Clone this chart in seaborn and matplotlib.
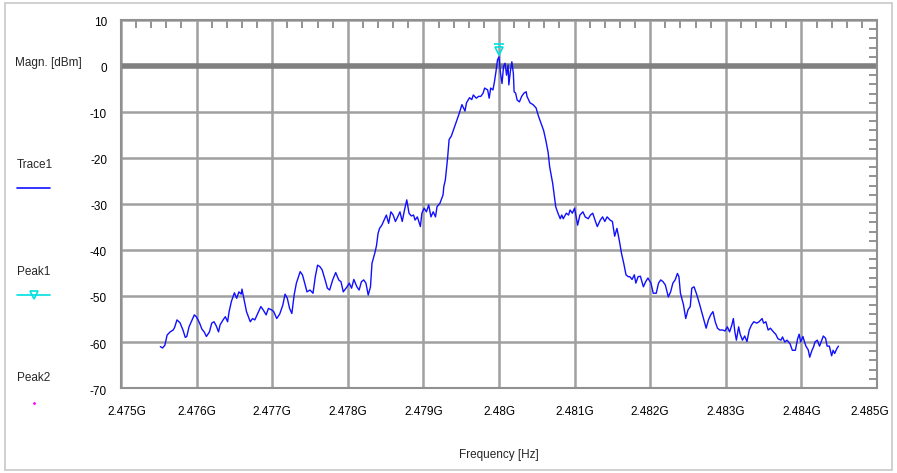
import pandas as pd
import matplotlib.pyplot as plt
import seaborn as sns
from matplotlib.lines import Line2D
from matplotlib.patches import Rectangle
from matplotlib.ticker import MultipleLocator, FuncFormatter
from matplotlib.transforms import ScaledTranslation

# ── DATA (frequency in MHz, magnitude in dBm) ─────────────
freq_mhz = [
    2475.52, 2475.55, 2475.58, 2475.61, 2475.65, 2475.69, 2475.71, 2475.74, 2475.78, 2475.82,
    2475.85, 2475.87, 2475.90, 2475.94, 2475.97, 2476.00, 2476.04, 2476.07, 2476.10, 2476.13,
    2476.17, 2476.20, 2476.23, 2476.26, 2476.29, 2476.31, 2476.35, 2476.38, 2476.41, 2476.43,
    2476.46, 2476.50, 2476.53, 2476.56, 2476.59, 2476.60, 2476.63, 2476.66, 2476.71, 2476.74,
    2476.77, 2476.82, 2476.85, 2476.88, 2476.92, 2476.95, 2476.99, 2477.02, 2477.06, 2477.10,
    2477.14, 2477.17, 2477.20, 2477.23, 2477.26, 2477.29, 2477.32, 2477.37, 2477.40, 2477.43,
    2477.46, 2477.50, 2477.54, 2477.57, 2477.60, 2477.63, 2477.66, 2477.70, 2477.73, 2477.76,
    2477.80, 2477.84, 2477.88, 2477.91, 2477.94, 2477.99, 2478.02, 2478.05, 2478.08, 2478.12,
    2478.15, 2478.18, 2478.21, 2478.24, 2478.27, 2478.30, 2478.32, 2478.36, 2478.38, 2478.40,
    2478.42, 2478.45, 2478.48, 2478.51, 2478.54, 2478.57, 2478.60, 2478.63, 2478.66, 2478.69,
    2478.72, 2478.75, 2478.78, 2478.81, 2478.84, 2478.87, 2478.89, 2478.92, 2478.96, 2478.98,
    2479.01, 2479.04, 2479.07, 2479.10, 2479.13, 2479.16, 2479.18, 2479.22, 2479.26, 2479.27,
    2479.29, 2479.32, 2479.34, 2479.37, 2479.40, 2479.44, 2479.47, 2479.51, 2479.53, 2479.55,
    2479.57, 2479.61, 2479.64, 2479.66, 2479.70, 2479.73, 2479.76, 2479.79, 2479.81, 2479.85,
    2479.87, 2479.89, 2479.92, 2479.94, 2479.96, 2479.98, 2480.00, 2480.02, 2480.04, 2480.06,
    2480.08, 2480.10, 2480.12, 2480.13, 2480.15, 2480.17, 2480.19, 2480.20, 2480.22, 2480.24,
    2480.27, 2480.30, 2480.33, 2480.36, 2480.37, 2480.41, 2480.45, 2480.49, 2480.52, 2480.55,
    2480.59, 2480.62, 2480.65, 2480.67, 2480.71, 2480.73, 2480.75, 2480.78, 2480.81, 2480.83,
    2480.85, 2480.89, 2480.92, 2480.94, 2480.97, 2481.00, 2481.02, 2481.04, 2481.07, 2481.11,
    2481.14, 2481.18, 2481.21, 2481.24, 2481.27, 2481.30, 2481.34, 2481.37, 2481.40, 2481.43,
    2481.47, 2481.50, 2481.53, 2481.56, 2481.59, 2481.62, 2481.65, 2481.68, 2481.71, 2481.73,
    2481.76, 2481.79, 2481.81, 2481.84, 2481.87, 2481.91, 2481.94, 2481.97, 2482.01, 2482.04,
    2482.08, 2482.11, 2482.14, 2482.17, 2482.20, 2482.24, 2482.27, 2482.30, 2482.33, 2482.36,
    2482.38, 2482.40, 2482.44, 2482.47, 2482.50, 2482.53, 2482.55, 2482.58, 2482.61, 2482.65,
    2482.68, 2482.71, 2482.74, 2482.77, 2482.80, 2482.83, 2482.86, 2482.89, 2482.92, 2482.96,
    2482.99, 2483.02, 2483.05, 2483.08, 2483.10, 2483.12, 2483.14, 2483.17, 2483.19, 2483.22,
    2483.25, 2483.28, 2483.31, 2483.34, 2483.37, 2483.41, 2483.44, 2483.48, 2483.50, 2483.53,
    2483.56, 2483.59, 2483.63, 2483.66, 2483.69, 2483.73, 2483.75, 2483.78, 2483.81, 2483.85,
    2483.88, 2483.92, 2483.95, 2483.97, 2483.99, 2484.02, 2484.04, 2484.06, 2484.09, 2484.11,
    2484.14, 2484.16, 2484.18, 2484.21, 2484.24, 2484.27, 2484.29, 2484.32, 2484.34, 2484.37,
    2484.40, 2484.42, 2484.44, 2484.47, 2484.49,
]
magn_dbm = [
    -61.0, -61.3, -60.7, -58.5, -57.8, -57.4, -56.8, -55.2, -55.8, -57.4,
    -59.0, -58.8, -56.7, -55.2, -54.1, -54.6, -55.9, -57.2, -57.8, -58.8,
    -57.8, -55.9, -55.6, -56.5, -57.8, -56.3, -55.2, -54.5, -55.6, -53.4,
    -51.2, -49.3, -50.5, -49.1, -49.6, -48.5, -50.9, -53.4, -55.6, -54.9,
    -55.2, -53.4, -52.3, -53.0, -54.1, -52.7, -53.0, -53.4, -54.9, -53.9,
    -52.0, -49.6, -50.5, -52.7, -53.8, -49.8, -47.2, -44.7, -45.4, -47.2,
    -49.1, -48.7, -49.4, -45.8, -43.3, -43.6, -44.3, -46.5, -48.3, -48.7,
    -46.5, -44.9, -46.5, -46.9, -49.1, -48.0, -47.2, -48.3, -46.4, -48.0,
    -48.7, -46.9, -46.5, -47.2, -49.8, -48.0, -42.9, -40.5, -39.0, -36.4,
    -35.3, -34.6, -33.5, -32.4, -34.2, -31.7, -32.4, -33.8, -32.8, -31.7,
    -33.8, -31.3, -29.1, -32.0, -32.6, -32.4, -33.5, -32.8, -34.9, -32.0,
    -30.9, -31.7, -30.2, -32.8, -31.7, -32.8, -30.6, -29.8, -28.0, -26.2,
    -24.8, -20.0, -16.0, -15.2, -13.8, -12.0, -10.5, -8.4, -9.1, -9.8,
    -8.0, -6.9, -7.3, -6.3, -7.0, -6.6, -6.6, -5.9, -4.8, -5.2,
    -7.0, -4.8, -5.2, -3.4, -1.2, 1.3, 2.0, -1.6, -3.8, -0.1,
    0.6, -2.0, 0.2, -4.1, -1.2, 0.9, -1.6, -5.6, -5.9, -7.4,
    -7.8, -6.6, -5.9, -5.6, -6.6, -8.0, -8.4, -9.1, -10.8, -12.2,
    -14.0, -16.2, -18.8, -21.9, -25.5, -28.1, -30.6, -32.0, -33.2, -32.4,
    -33.2, -32.0, -32.4, -31.3, -32.0, -30.9, -32.8, -34.6, -32.4, -31.7,
    -32.8, -33.2, -32.4, -32.0, -33.5, -34.9, -33.5, -32.8, -33.8, -32.8,
    -33.5, -33.8, -37.0, -35.3, -37.8, -40.7, -42.9, -45.4, -45.8, -45.8,
    -46.4, -45.4, -47.2, -45.8, -45.7, -48.0, -46.9, -46.1, -47.2, -49.4,
    -49.4, -47.2, -46.5, -46.9, -47.6, -50.2, -49.1, -47.2, -46.5, -45.1,
    -45.8, -49.4, -51.9, -54.9, -53.0, -52.3, -48.3, -48.0, -49.4, -51.6,
    -53.4, -55.2, -57.0, -55.2, -54.1, -53.4, -55.6, -57.0, -57.4, -57.4,
    -57.6, -56.7, -57.8, -56.3, -54.9, -57.8, -59.6, -56.7, -58.3, -59.6,
    -58.7, -59.9, -57.4, -56.3, -55.6, -55.9, -55.6, -54.9, -55.9, -55.6,
    -57.4, -57.0, -57.8, -58.3, -59.3, -59.6, -58.9, -60.0, -59.6, -60.4,
    -61.8, -61.8, -59.3, -58.3, -60.0, -58.8, -59.9, -60.9, -61.7, -63.3,
    -61.8, -61.1, -60.0, -59.6, -60.9, -59.6, -58.7, -59.2, -60.9, -60.9,
    -63.0, -61.8, -62.5, -61.4, -60.9,
]

x_ticks_mhz = [2475, 2476, 2477, 2478, 2479, 2480, 2481, 2482, 2483, 2484, 2485]
y_ticks_dbm = [10, 0, -10, -20, -30, -40, -50, -60, -70]

df = pd.DataFrame({'freq': freq_mhz, 'magn': magn_dbm})
peak = df.loc[df['magn'].idxmax()]

# ── STYLE ─────────────────────────────────────────────────
sns.set_style("white")
plt.rcParams['font.family'] = ['Liberation Sans', 'DejaVu Sans']
plt.rcParams['axes.unicode_minus'] = False

fig = plt.figure(figsize=(8.97, 4.73), dpi=100)
ax = fig.add_axes([121 / 897, 85 / 473, 756 / 897, 368 / 473])

grid_col = '#a0a0a0'
ax.set_xlim(2475, 2485)
ax.set_ylim(-70, 10)
ax.set_xticks(x_ticks_mhz)
ax.set_yticks(y_ticks_dbm)
ax.xaxis.set_minor_locator(MultipleLocator(0.2))
ax.yaxis.set_minor_locator(MultipleLocator(2))
ax.xaxis.set_major_formatter(FuncFormatter(lambda v, p: f"{v / 1000:g}G"))
ax.grid(True, which='major', color=grid_col, lw=1.8)
ax.axhline(0, color='#808080', lw=4, zorder=1.5)

ax.tick_params(which='both', direction='in', top=True, right=True,
               color='#808080', labelsize=8.5, labelcolor='black')
ax.tick_params(which='major', length=0)
ax.tick_params(axis='x', which='major', pad=13)
ax.tick_params(axis='y', which='major', pad=10)
ax.tick_params(which='minor', length=6, width=1.2)
for s in ax.spines.values():
    s.set_color('#909090')
    s.set_linewidth(1.5)

# ── TRACE & PEAK ──────────────────────────────────────────
sns.lineplot(data=df, x='freq', y='magn', sort=False, estimator=None,
             color='#1010ff', lw=1.0, ax=ax, zorder=3)
ax.plot(peak['freq'], peak['magn'] + 1.2, marker='v', ms=6, mfc='none',
        mec='#00e0e0', mew=1.2, zorder=4)
ax.plot(peak['freq'], peak['magn'] + 2.8, marker='_', ms=7,
        mec='#00e0e0', mew=1.2, zorder=4)

ax.set_xlabel('Frequency [Hz]', fontsize=8.5, labelpad=22)
ax.set_ylabel('')

# nudge edge tick labels inward and y labels slightly down, as in the reference
fig.canvas.draw()
xl = ax.get_xticklabels()
xl[0].set_transform(xl[0].get_transform() + ScaledTranslation(6 / 100, 0, fig.dpi_scale_trans))
xl[-1].set_transform(xl[-1].get_transform() + ScaledTranslation(-7 / 100, 0, fig.dpi_scale_trans))
for t in ax.get_yticklabels():
    t.set_transform(t.get_transform() + ScaledTranslation(0, -2 / 100, fig.dpi_scale_trans))

# ── LEFT-SIDE LABELS / LEGEND ─────────────────────────────
fig.text(15 / 897, 1 - 63 / 473, 'Magn. [dBm]', fontsize=8.5, va='center')
fig.text(17 / 897, 1 - 165 / 473, 'Trace1', fontsize=8.5, va='center')
fig.add_artist(Line2D([17 / 897, 50 / 897], [1 - 188 / 473] * 2,
                      color='#1010ff', lw=1.2))
fig.text(17 / 897, 1 - 272 / 473, 'Peak1', fontsize=8.5, va='center')
fig.add_artist(Line2D([17 / 897, 50 / 897], [1 - 295 / 473] * 2,
                      color='#00e0e0', lw=1.2))
fig.add_artist(Line2D([33.5 / 897], [1 - 295 / 473], marker='v', ms=6,
                      mfc='none', mec='#00e0e0', mew=1.2))
fig.text(17 / 897, 1 - 378 / 473, 'Peak2', fontsize=8.5, va='center')
fig.add_artist(Line2D([34 / 897], [1 - 403 / 473], marker='.', ms=2,
                      color='#ff00ff'))

fig.add_artist(Rectangle((5 / 897, 3 / 473), 887 / 897, 467 / 473,
                         fill=False, ec='#c8c8c8', lw=1.2))

plt.savefig('out.png', dpi=100)
